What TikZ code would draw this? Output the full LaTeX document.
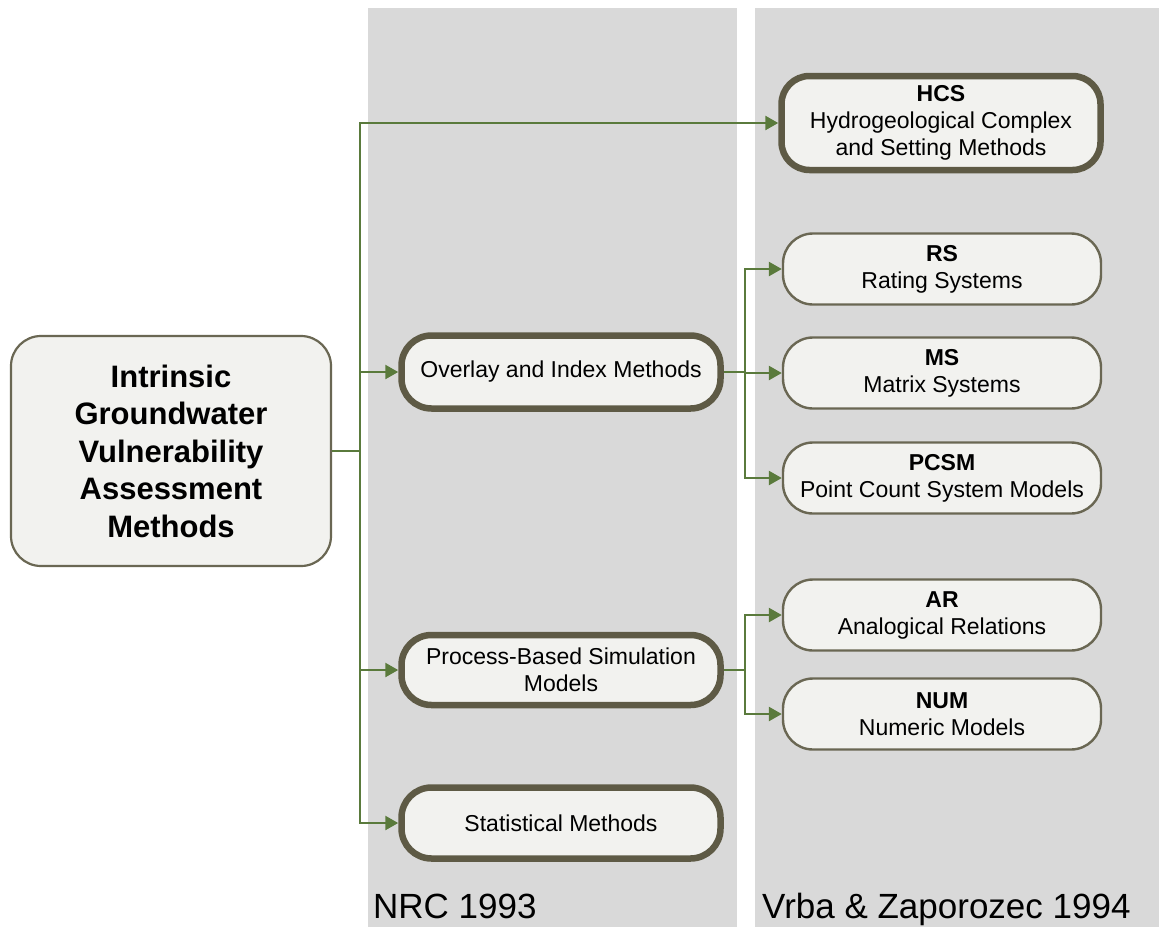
\documentclass[tikz,border=0pt]{standalone}
\usepackage{fontspec}
\setmainfont{Liberation Sans}
\usetikzlibrary{arrows.meta}

\definecolor{panelgray}{HTML}{D9D9D9}
\definecolor{boxfill}{HTML}{F2F2EF}
\definecolor{boxline}{HTML}{6A6753}
\definecolor{boxdark}{HTML}{5E5A45}
\definecolor{arrowgreen}{HTML}{5A7A3C}

\begin{document}
\begin{tikzpicture}[x=1pt, y=-1pt, >={Triangle[length=13pt,width=14pt]},
    box/.style={draw=boxline, line width=2.4pt, fill=boxfill, rounded corners=30pt,
                align=center, font=\fontsize{23}{27}\selectfont,
                minimum width=318pt, minimum height=71pt, inner sep=0pt},
    thickbox/.style={box, draw=boxdark, line width=6.5pt, minimum width=319pt, minimum height=72pt},
    arr/.style={->, line width=2.5pt, arrowgreen},
    lbl/.style={font=\fontsize{35}{40}\selectfont, inner sep=0pt, anchor=base west}
  ]
  \useasboundingbox (0,0) rectangle (1159,927);

  % reference columns
  \fill[panelgray] (368,8) rectangle (737,927);
  \fill[panelgray] (755,8) rectangle (1159,927);

  \node[box, line width=2.2pt, rounded corners=30pt, minimum width=320pt, minimum height=230pt,
        font=\bfseries\fontsize{31}{37.5}\selectfont] (main) at (171,451)
        {Intrinsic\\Groundwater\\Vulnerability\\Assessment\\Methods};

  \node[thickbox, minimum height=94pt, rounded corners=28pt] (hcs) at (941,123)
        {\textbf{HCS}\\Hydrogeological Complex\\and Setting Methods};
  \node[thickbox, minimum height=73pt] (overlay) at (561,372) {Overlay and Index Methods};
  \node[thickbox, minimum height=70pt] (process) at (561,670) {Process-Based Simulation\\Models};
  \node[thickbox, minimum height=71pt] (stat) at (561,823) {Statistical Methods};

  \node[box] (rs)   at (942,269) {\textbf{RS}\\Rating Systems};
  \node[box] (ms)   at (942,373) {\textbf{MS}\\Matrix Systems};
  \node[box] (pcsm) at (942,478) {\textbf{PCSM}\\Point Count System Models};
  \node[box] (ar)   at (942,615) {\textbf{AR}\\Analogical Relations};
  \node[box] (num)  at (942,714) {\textbf{NUM}\\Numeric Models};

  \node[lbl] (nrc)  at (373,918) {NRC 1993};
  \node[lbl] (vrba) at (762,918) {Vrba \& Zaporozec 1994};

  % connectors
  \coordinate (trunk)  at (360,451);
  \coordinate (obranch) at (745,372);
  \coordinate (pbranch) at (745,670);

  \draw[line width=2.5pt, arrowgreen] (main.east) -- (trunk);
  \draw[arr] (trunk) |- (hcs.west);
  \draw[arr] (trunk) |- (overlay.west);
  \draw[arr] (trunk) |- (process.west);
  \draw[arr] (trunk) |- (stat.west);

  \draw[line width=2.5pt, arrowgreen] (overlay.east) -- (obranch);
  \draw[arr] (obranch) |- (rs.west);
  \draw[arr] (obranch) |- (ms.west);
  \draw[arr] (obranch) |- (pcsm.west);

  \draw[line width=2.5pt, arrowgreen] (process.east) -- (pbranch);
  \draw[arr] (pbranch) |- (ar.west);
  \draw[arr] (pbranch) |- (num.west);

\end{tikzpicture}
\end{document}
